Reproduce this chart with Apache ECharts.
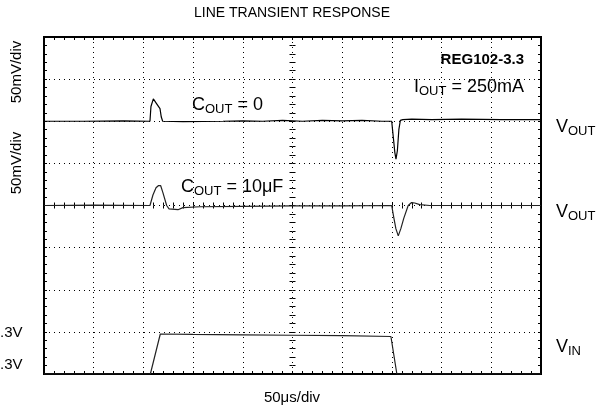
<!DOCTYPE html>
<html>
<head>
<meta charset="utf-8">
<script src="https://cdn.jsdelivr.net/npm/echarts@6/dist/echarts.min.js"></script>
<style>
  html, body { margin: 0; padding: 0; background: #fff; }
  #chart { width: 613px; height: 410px; }
</style>
</head>
<body>
<div id="chart"></div>
<script>
// scope screen: time in us (50us/div, 10 div), vertical in divisions (-4..4)
var timeRange = [0, 500];
var divRange = [-4, 4];

// Vout, Cout = 0 (upper trace, 50mV/div)
var voutNoCap = [
  [0, 2.0], [40, 2.0], [80, 2.01], [106.6, 2.0], [107.6, 2.35], [110, 2.53], [111.7, 2.5],
  [113.2, 2.42], [115, 2.4], [116.7, 2.3], [118, 2.1], [119.4, 2.0], [140, 1.99],
  [180, 2.0], [200, 2.01], [220, 2.0], [240, 2.02], [260, 2.0], [280, 2.02], [300, 2.01],
  [320, 2.02], [340, 2.0], [349.8, 2.0], [351.5, 1.6], [353, 1.25], [354.1, 1.1],
  [355.5, 1.3], [357, 1.8], [358.5, 2.02], [361, 2.04], [370, 2.05], [390, 2.04],
  [420, 2.05], [460, 2.04], [500, 2.04]
];

// Vout, Cout = 10uF (middle trace, 50mV/div)
var voutCap10u = [
  [0, 0], [50, 0.01], [106.6, 0], [109.6, 0.25], [112.7, 0.42], [115, 0.47], [117.4, 0.47],
  [119.7, 0.3], [123.4, 0], [125.8, -0.08], [127.5, -0.1], [134.8, -0.1], [139.8, -0.05],
  [157, -0.03], [200, -0.02], [250, -0.01], [300, -0.01], [349.8, 0], [352, -0.3],
  [354, -0.55], [356.4, -0.72], [359, -0.55], [362, -0.3], [366.4, 0], [369.8, 0.07],
  [373, 0.06], [378, 0.02], [388, 0], [440, 0], [500, 0]
];

// Vin step (bottom trace)
var vinStep = [
  [0, -4], [107, -4], [117, -3.05], [150, -3.06], [200, -3.07], [250, -3.08],
  [300, -3.09], [349, -3.11], [355, -4], [500, -4]
];

var fontFam = 'Liberation Sans, Arial, Helvetica, sans-serif';
var chart = echarts.init(document.getElementById('chart'));

function merge(a, b) { var o = {}; for (var k in a) o[k] = a[k]; for (var j in b) o[j] = b[j]; return o; }

function tickAxis(extra, outside) {
  return merge({
    type: 'value',
    axisLine: { show: false, onZero: false },
    axisLabel: { show: false },
    axisTick: { show: true, inside: !outside, length: 3, lineStyle: { color: '#000', width: 1 } },
    minorTick: { show: true, splitNumber: 5, length: 3, lineStyle: { color: '#000', width: 1 } },
    splitLine: { show: false }
  }, extra);
}

var xBase = { min: timeRange[0], max: timeRange[1], interval: 50 };
var yBase = { min: divRange[0], max: divRange[1], interval: 1 };
var dotted = { show: true, lineStyle: { color: '#000', width: 1, type: [1, 4] } };

var xAxes = [
  tickAxis(merge(xBase, { position: 'bottom', splitLine: dotted })),
  tickAxis(merge(xBase, { position: 'top' })),
  tickAxis(merge(xBase, { position: 'bottom', offset: -168.5 })),
  tickAxis(merge(xBase, { position: 'bottom', offset: -168.5 }), true)
];
var yAxes = [
  tickAxis(merge(yBase, { position: 'left', splitLine: dotted })),
  tickAxis(merge(yBase, { position: 'right' })),
  tickAxis(merge(yBase, { position: 'left', offset: -248.5 })),
  tickAxis(merge(yBase, { position: 'left', offset: -248.5 }), true)
];

function sub(main, s, size) {
  return {
    text: '{m|' + main + '}{s|' + s + '}',
    rich: {
      m: { fontSize: size, fontFamily: fontFam, fill: '#000', lineHeight: 22 },
      s: { fontSize: Math.round(size * 0.72), fontFamily: fontFam, fill: '#000', lineHeight: 9, verticalAlign: 'bottom' }
    }
  };
}
function sub3(main, s, tail, size) {
  var o = sub(main, s, size);
  o.text += '{m|' + tail + '}';
  return o;
}

function txt(x, y, style, extra) {
  var el = { type: 'text', x: x, y: y, style: style, z: 100 };
  for (var k in extra) el[k] = extra[k];
  return el;
}

chart.setOption({
  animation: false,
  backgroundColor: '#fff',
  grid: { left: 44, top: 37, right: 72, bottom: 36, show: true, borderColor: '#000', borderWidth: 2, backgroundColor: 'transparent' },
  xAxis: xAxes,
  yAxis: yAxes,
  series: [
    { name: 'VOUT (COUT = 0)', type: 'line', data: voutNoCap, showSymbol: false, lineStyle: { color: '#000', width: 1.2 } },
    { name: 'VOUT (COUT = 10uF)', type: 'line', data: voutCap10u, showSymbol: false, lineStyle: { color: '#222', width: 1.2 } },
    { name: 'VIN', type: 'line', data: vinStep, showSymbol: false, lineStyle: { color: '#222', width: 1.2 } }
  ],
  graphic: [
    txt(292, 13, { text: 'LINE TRANSIENT RESPONSE', font: '14px ' + fontFam, fill: '#000', align: 'center', verticalAlign: 'middle' }),
    txt(292, 398, { text: '50\u03bcs/div', font: '15px ' + fontFam, fill: '#000', align: 'center', verticalAlign: 'middle' }),
    txt(524, 60, { text: 'REG102-3.3', font: 'bold 15px ' + fontFam, fill: '#000', align: 'right', verticalAlign: 'middle' }),
    txt(414, 87, merge(sub3('I', 'OUT', ' = 250mA', 18), { align: 'left', verticalAlign: 'middle' })),
    txt(192, 105, merge(sub3('C', 'OUT', ' = 0', 18), { align: 'left', verticalAlign: 'middle' })),
    txt(181, 187, merge(sub3('C', 'OUT', ' = 10\u03bcF', 18), { align: 'left', verticalAlign: 'middle' })),
    txt(556, 127, merge(sub('V', 'OUT', 18), { align: 'left', verticalAlign: 'middle' })),
    txt(556, 212, merge(sub('V', 'OUT', 18), { align: 'left', verticalAlign: 'middle' })),
    txt(556, 347, merge(sub('V', 'IN', 18), { align: 'left', verticalAlign: 'middle' })),
    txt(17, 72, { text: '50mV/div', font: '15px ' + fontFam, fill: '#000', align: 'center', verticalAlign: 'middle' }, { rotation: Math.PI / 2 }),
    txt(17, 163, { text: '50mV/div', font: '15px ' + fontFam, fill: '#000', align: 'center', verticalAlign: 'middle' }, { rotation: Math.PI / 2 }),
    txt(0, 333, { text: '.3V', font: '15px ' + fontFam, fill: '#000', align: 'left', verticalAlign: 'middle' }),
    txt(0, 365, { text: '.3V', font: '15px ' + fontFam, fill: '#000', align: 'left', verticalAlign: 'middle' })
  ]
});
</script>
</body>
</html>
